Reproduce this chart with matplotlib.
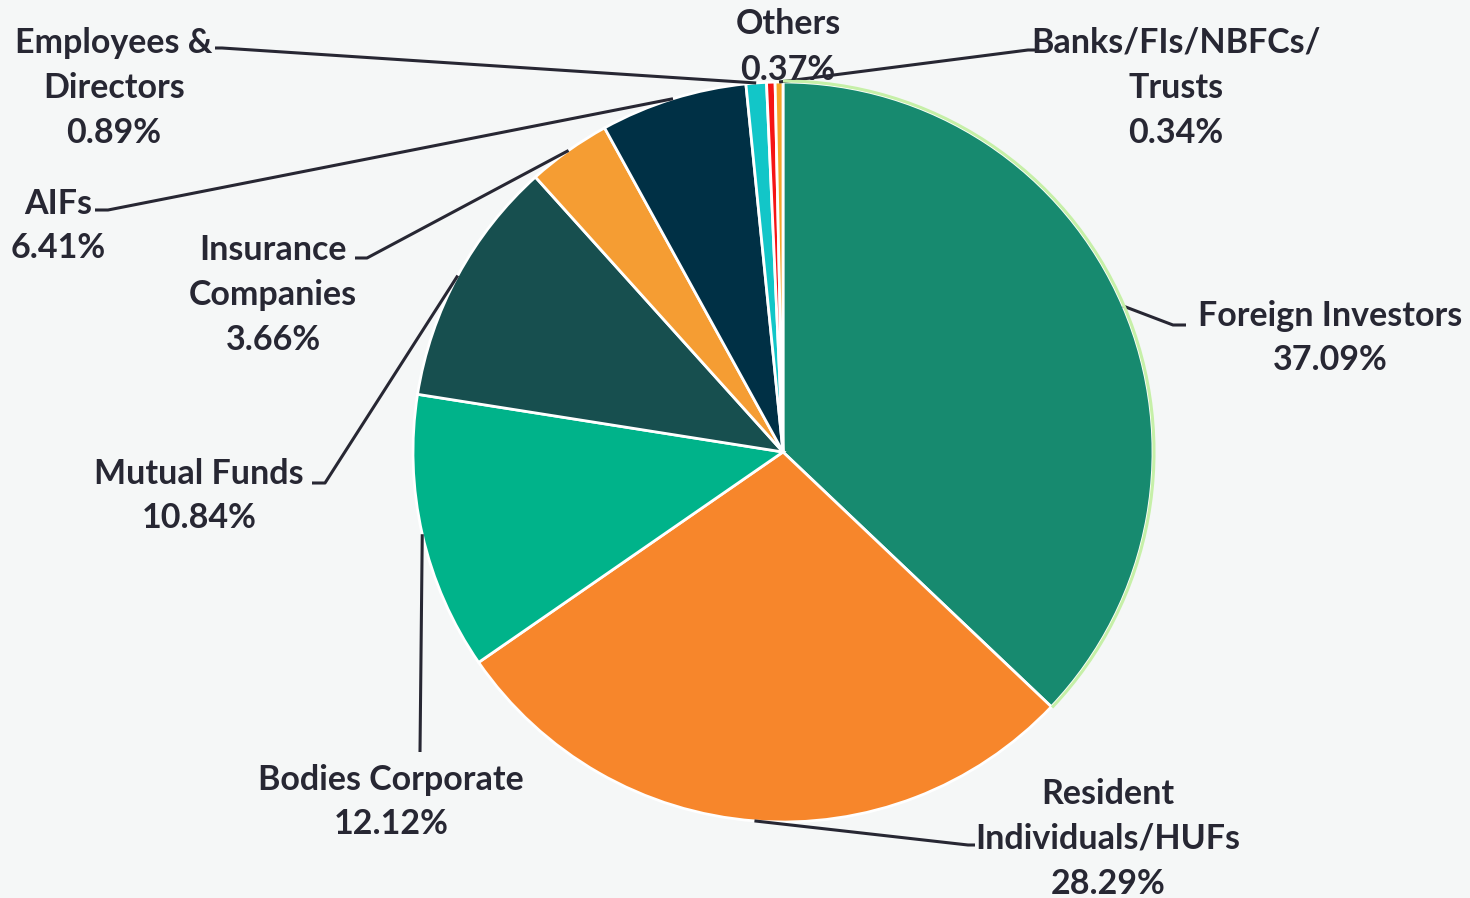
import numpy as np
import matplotlib
matplotlib.use("Agg")
import matplotlib.pyplot as plt
from matplotlib.patches import Arc

# ---- data ----
categories = ["Foreign Investors", "Resident\nIndividuals/HUFs", "Bodies Corporate",
              "Mutual Funds", "Insurance\nCompanies", "AIFs", "Employees &\nDirectors",
              "Others", "Banks/FIs/NBFCs/\nTrusts"]
shares = [37.09, 28.29, 12.12, 10.84, 3.66, 6.41, 0.89, 0.37, 0.34]
colors = ["#178A6F", "#F7862B", "#00B38A", "#174F4F", "#F59D33", "#003045",
          "#12C6C8", "#F51515", "#F5A628"]

W, H = 1470, 898
BG = "#F5F7F7"
TXT = "#272733"

fig = plt.figure(figsize=(W / 100, H / 100), dpi=100, facecolor=BG)
ax = fig.add_axes([0, 0, 1, 1])
ax.set_facecolor(BG)

cx, cy, R = 783, H - 452, 370
wedges, _ = ax.pie(shares, colors=colors, startangle=90, counterclock=False,
                   center=(cx, cy), radius=R, frame=True,
                   wedgeprops=dict(edgecolor="white", linewidth=2.0))
ax.set_xlim(0, W)
ax.set_ylim(0, H)
ax.set_aspect("equal")
ax.axis("off")

# light green outer rim on the first wedge
w0 = wedges[0]
ax.add_patch(Arc((cx, cy), 2 * R + 2, 2 * R + 2, theta1=w0.theta1, theta2=w0.theta2,
                 color="#C6F0A8", lw=2.2, zorder=5))

# label positions (pixel coords, y from top), elbow points, end points
label_pos = [(1330, 338), (1108, 839), (391, 802), (199, 496), (273, 295),
             (58, 226), (114, 88), (788, 47), (1176, 88)]
elbow = [(1173, 325), (968, 845), (420, 752), (325, 483), (367, 258),
         (108, 210), (222, 48), None, (1028, 50)]
end = [(1186, 325), (975, 845), (420, 752), (312, 483), (355, 258),
       (95, 210), (215, 48), None, (1036, 50)]

for i, (w, lab, val) in enumerate(zip(wedges, categories, shares)):
    tx, ty = label_pos[i]
    ax.text(tx, H - ty, f"{lab}\n{val:.2f}%", ha="center", va="center",
            fontsize=24.5, fontweight="bold", family=["Lato", "DejaVu Sans"],
            color=TXT, linespacing=1.5, zorder=6)
    if elbow[i] is None:
        continue
    ang = np.deg2rad((w.theta1 + w.theta2) / 2)
    ax0, ay0 = cx + R * np.cos(ang), cy + R * np.sin(ang)
    ex, ey = elbow[i]
    fx, fy = end[i]
    ax.plot([ax0, ex, fx], [ay0, H - ey, H - fy], color=TXT, lw=2.2,
            solid_capstyle="butt", zorder=4)

fig.savefig("out.png", dpi=100, facecolor=BG)
